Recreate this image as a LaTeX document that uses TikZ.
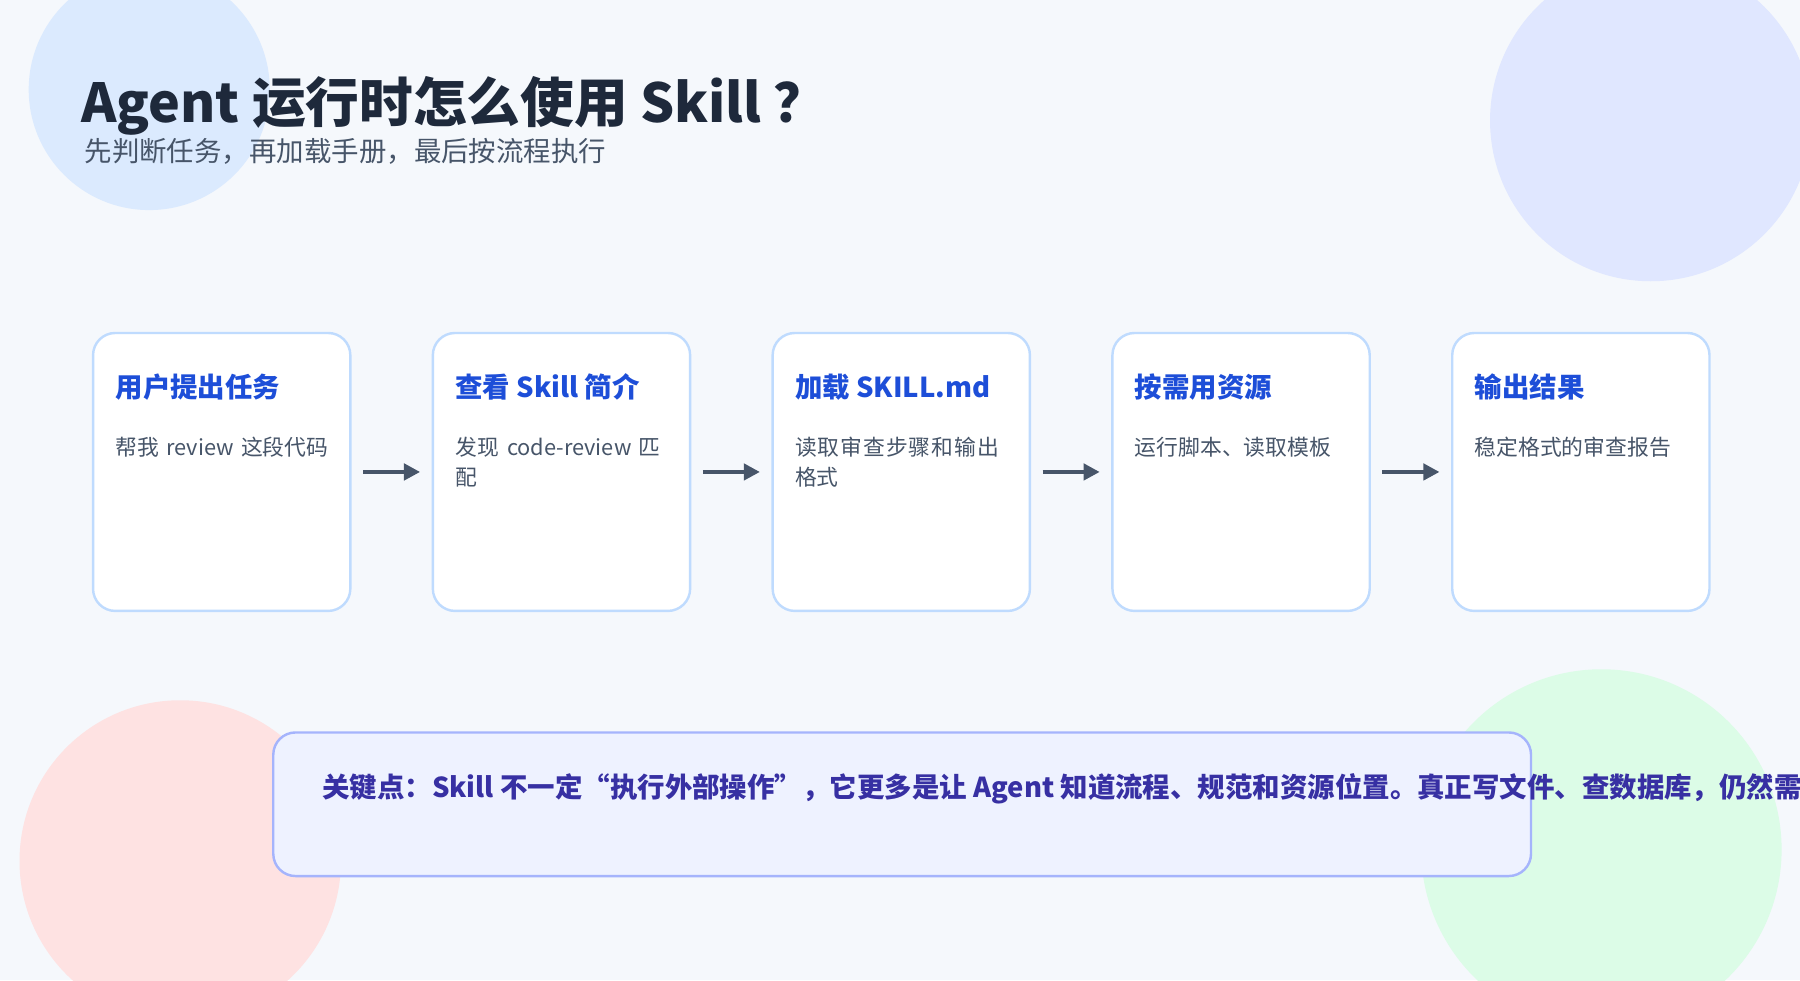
\documentclass[tikz,border=0pt]{standalone}
\usepackage{fontspec}
\setmainfont{Noto Sans CJK SC}
\XeTeXlinebreaklocale "zh"
\XeTeXlinebreakskip = 0pt plus 1pt
\usetikzlibrary{arrows.meta,positioning}
\definecolor{bgc}{HTML}{F5F8FC}
\definecolor{titlec}{HTML}{1E293B}
\definecolor{subc}{HTML}{475569}
\definecolor{headc}{HTML}{1D4ED8}
\definecolor{edgec}{HTML}{BFDBFE}
\definecolor{keyfill}{HTML}{EEF2FF}
\definecolor{keyedge}{HTML}{A5B4FC}
\definecolor{keytext}{HTML}{3730A3}
\definecolor{blobtl}{HTML}{DBEAFE}
\definecolor{blobtr}{HTML}{E0E7FF}
\definecolor{blobbl}{HTML}{FEE2E2}
\definecolor{blobbr}{HTML}{DCFCE7}
\begin{document}
\begin{tikzpicture}
[x=0.01cm,y=-0.01cm,
stagebox/.style={draw=edgec,line width=0.6pt,fill=white,rounded corners=5.5pt,
  minimum width=2.24cm,minimum height=2.42cm,anchor=north west},
head/.style={anchor=base west,inner sep=0pt,text=headc,font=\fontsize{6.8}{8}\selectfont\bfseries},
body/.style={anchor=north west,text=subc,text width=1.86cm,inner sep=0pt,
  font=\fontsize{5.4}{7.4}\selectfont},
flow/.style={-{Triangle[length=4pt,width=4pt]},draw=subc,line width=1pt}]
%% background
\clip (0,0) rectangle (1568,854);
\fill[bgc] (0,0) rectangle (1568,854);
\fill[blobtl] (130,78) circle (105);
\fill[blobtr] (1438,105) circle (140);
\fill[blobbl] (157,750) circle (140);
\fill[blobbr] (1395,740) circle (157);
%% title
\node (title) [anchor=base west,inner sep=0pt,text=titlec,font=\fontsize{13.3}{15}\selectfont\bfseries] at (70,107) {Agent 运行时怎么使用 Skill ？};
\node (sub) [anchor=base west,inner sep=0pt,text=subc,font=\fontsize{6.8}{8}\selectfont] at (73,141) {先判断任务，再加载手册，最后按流程执行};
%% steps
\node (s1) [stagebox] at (80,289) {};
\node (s2) [stagebox] at (376,289) {};
\node (s3) [stagebox] at (672,289) {};
\node (s4) [stagebox] at (968,289) {};
\node (s5) [stagebox] at (1264,289) {};
\node (h1) [head] at (100,346) {用户提出任务};
\node (h2) [head] at (396,346) {查看 Skill 简介};
\node (h3) [head] at (692,346) {加载 SKILL.md};
\node (h4) [head] at (988,346) {按需用资源};
\node (h5) [head] at (1284,346) {输出结果};
\node (b1) [body] at (100,380) {帮我 review 这段代码};
\node (b2) [body] at (396,380) {发现 code-review 匹配};
\node (b3) [body] at (692,380) {读取审查步骤和输出格式};
\node (b4) [body] at (988,380) {运行脚本、读取模板};
\node (b5) [body] at (1284,380) {稳定格式的审查报告};
\draw[flow] ([xshift=0.1cm]s1.east) -- ([xshift=-0.1cm]s2.west);
\draw[flow] ([xshift=0.1cm]s2.east) -- ([xshift=-0.1cm]s3.west);
\draw[flow] ([xshift=0.1cm]s3.east) -- ([xshift=-0.1cm]s4.west);
\draw[flow] ([xshift=0.1cm]s4.east) -- ([xshift=-0.1cm]s5.west);
%% key point
\node (key) [draw=keyedge,line width=0.6pt,fill=keyfill,rounded corners=5.5pt,
  minimum width=10.95cm,minimum height=1.25cm,anchor=north west] at (237,637) {};
\node (keytxt) [anchor=base west,inner sep=0pt,text=keytext,font=\fontsize{6.8}{8}\selectfont\bfseries] at (280,695)
  {关键点：Skill 不一定“执行外部操作”，它更多是让 Agent 知道流程、规范和资源位置。真正写文件、查数据库，仍然需要工具。};
\end{tikzpicture}
\end{document}
